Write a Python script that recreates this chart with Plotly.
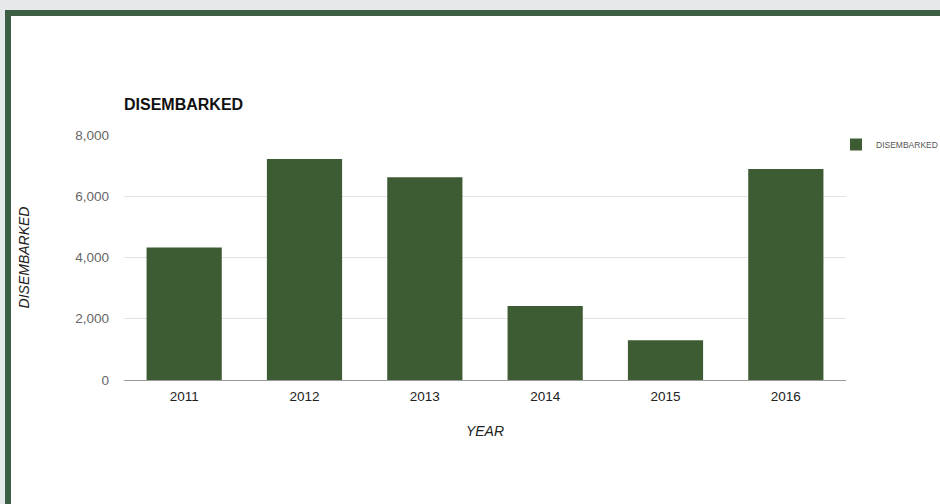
import plotly.graph_objects as go

years = ["2011", "2012", "2013", "2014", "2015", "2016"]
disembarked = [4330, 7220, 6620, 2420, 1300, 6890]
y_ticks = [0, 2000, 4000, 6000, 8000]
y_tick_labels = ["0", "2,000", "4,000", "6,000", "8,000"]

W, H = 940, 504
L, R, T, B = 124, 94, 135, 124
pw, ph = W - L - R, H - T - B

def px_x(px):
    return (px - L) / pw

def px_y(py):
    return (H - B - py) / ph

font_family = "Arial, Liberation Sans, sans-serif"

fig = go.Figure()
fig.add_trace(go.Bar(
    x=years, y=disembarked, name="DISEMBARKED",
    marker=dict(color="#3e5c34", line=dict(width=0)),
))

fig.update_layout(
    width=W, height=H,
    margin=dict(l=L, r=R, t=T, b=B, autoexpand=False),
    paper_bgcolor="#e6e8ea",
    plot_bgcolor="rgba(0,0,0,0)",
    font=dict(family=font_family, size=13, color="#444"),
    bargap=0.375,
    title=dict(
        text="<b>DISEMBARKED</b>",
        font=dict(family=font_family, size=16, color="#111"),
        x=L / W, xanchor="left", xref="container",
        y=1 - 104 / H, yanchor="middle", yref="container",
    ),
    showlegend=True,
    legend=dict(
        x=px_x(836), xanchor="left", y=px_y(130), yanchor="top",
        font=dict(family=font_family, size=8.5, color="#555"),
        bgcolor="rgba(0,0,0,0)", itemwidth=30,
    ),
    xaxis=dict(
        title=dict(text="<i>YEAR</i>", font=dict(size=14, color="#222"), standoff=22),
        showgrid=False, showline=True, linecolor="#999", linewidth=1,
        ticks="", tickfont=dict(size=13.5, color="#222"),
        ticklabelstandoff=4,
        automargin=False,
    ),
    yaxis=dict(
        title=dict(text="<i>DISEMBARKED</i>", font=dict(size=14, color="#222"), standoff=42),
        range=[0, 8000], tickvals=y_ticks, ticktext=y_tick_labels,
        showgrid=True, gridcolor="#e3e3e3", gridwidth=1,
        zeroline=False, showline=False, ticks="",
        tickfont=dict(size=13.5, color="#666"),
        ticklabelstandoff=14,
        automargin=False,
    ),
    shapes=[dict(
        type="rect", xref="paper", yref="paper", layer="below",
        x0=px_x(8), x1=px_x(965), y0=px_y(13), y1=px_y(535),
        fillcolor="white", line=dict(color="#3c5e45", width=6),
    )],
)

fig.write_html(
    "out.html",
    config={"displayModeBar": False},
    post_script="document.body.style.margin='0';document.body.style.overflow='hidden';document.body.style.background='#e6e8ea';",
)
